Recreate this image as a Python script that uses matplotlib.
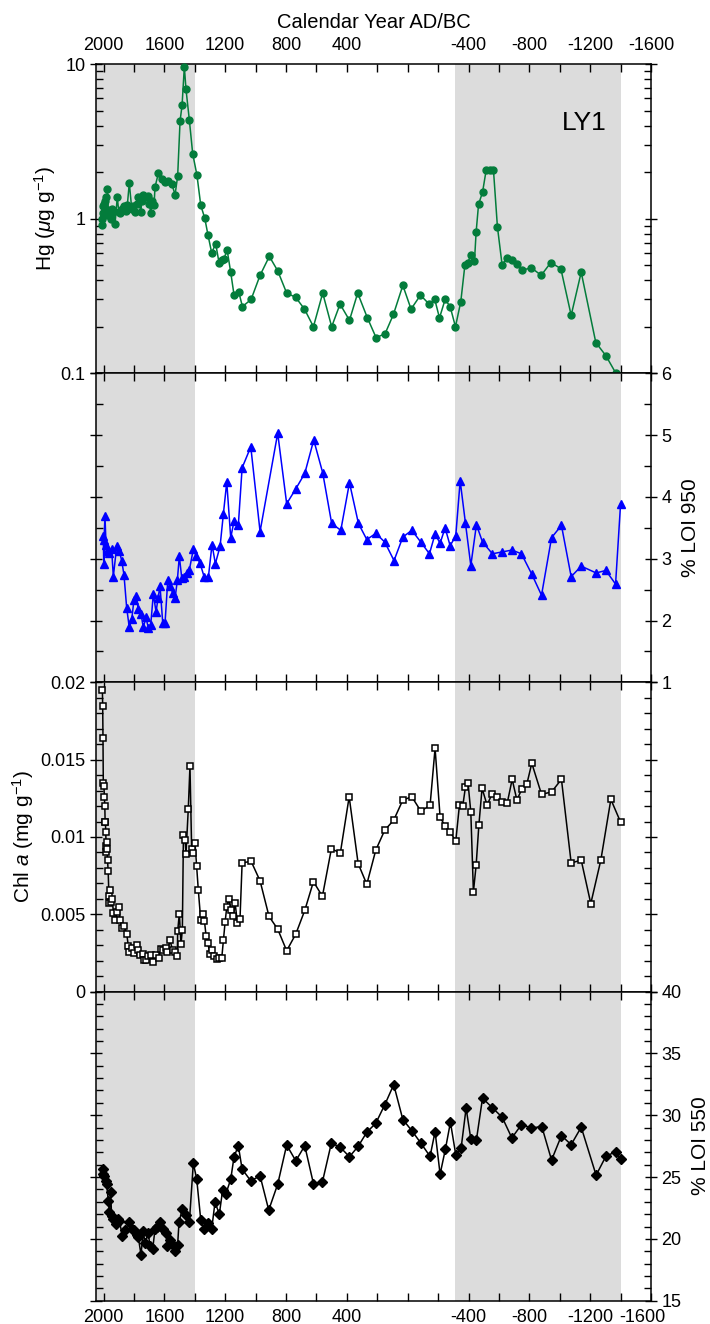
import numpy as np
import matplotlib
matplotlib.use('Agg')
import matplotlib.pyplot as plt
import matplotlib.transforms as mtransforms
from matplotlib.ticker import FixedLocator, MultipleLocator, LogLocator, NullFormatter, FixedFormatter

plt.rcParams['font.family'] = ['Liberation Sans', 'DejaVu Sans']
plt.rcParams['mathtext.fontset'] = 'custom'
plt.rcParams['mathtext.rm'] = 'Liberation Sans'
plt.rcParams['mathtext.it'] = 'Liberation Sans:italic'
plt.rcParams['axes.unicode_minus'] = False

# Hg (ug/g)
hg_year = [2013, 2010, 2006, 2002, 1997, 1990, 1984, 1980, 1975, 1969, 1958, 1950, 1945, 1936, 1925,
           1910, 1900, 1892, 1880, 1866, 1855, 1844, 1831, 1815, 1805, 1793, 1780, 1771, 1756, 1748,
           1739, 1721, 1710, 1699, 1690, 1680, 1668, 1662, 1640, 1618, 1596, 1574, 1552, 1530, 1513,
           1497, 1484, 1469, 1458, 1436, 1414, 1386, 1361, 1335, 1313, 1289, 1263, 1241, 1221, 1208,
           1188, 1164, 1142, 1111, 1087, 1030, 971, 910, 855, 796, 737, 679, 620, 559, 500, 445, 383,
           329, 265, 208, 149, 94, 32, -22, -84, -141, -178, -209, -246, -279, -314, -349, -376, -395,
           -415, -439, -450, -466, -492, -516, -542, -564, -590, -621, -652, -685, -718, -751, -814,
           -878, -941, -1007, -1075, -1141, -1237, -1303, -1369]
hg_val = [0.91, 1.0, 1.08, 1.2, 1.25, 1.3, 1.38, 1.05, 1.55, 1.13, 1.05, 1.0, 1.15, 1.1, 0.92,
          1.38, 1.1, 1.08, 1.15, 1.2, 1.12, 1.22, 1.7, 1.16, 1.2, 1.1, 1.25, 1.38, 1.1, 1.3,
          1.43, 1.38, 1.4, 1.25, 1.08, 1.3, 1.22, 1.6, 1.96, 1.8, 1.73, 1.75, 1.68, 1.43, 1.88,
          4.3, 5.4, 9.6, 6.85, 4.34, 2.63, 1.91, 1.22, 1.01, 0.78, 0.6, 0.69, 0.52, 0.54, 0.55,
          0.63, 0.45, 0.32, 0.335, 0.27, 0.3, 0.43, 0.57, 0.46, 0.33, 0.31, 0.26, 0.2, 0.33, 0.2, 0.28, 0.22,
          0.33, 0.228, 0.17, 0.18, 0.24, 0.37, 0.26, 0.32, 0.28, 0.30, 0.228, 0.30, 0.27, 0.2, 0.29, 0.5, 0.52,
          0.58, 0.53, 0.82, 1.24, 1.48, 2.06, 2.06, 2.06, 0.885, 0.5, 0.56, 0.54, 0.51, 0.465, 0.48,
          0.43, 0.52, 0.475, 0.237, 0.45, 0.158, 0.13, 0.1]

# % LOI 950
loi950_year = [2002, 1999, 1997, 1991, 1984, 1975, 1962, 1947, 1936, 1914, 1896, 1881, 1866, 1848, 1831,
               1815, 1800, 1787, 1772, 1754, 1739, 1721, 1706, 1690, 1673, 1655, 1642, 1629, 1611, 1596,
               1578, 1563, 1546, 1530, 1515, 1502, 1486, 1471, 1453, 1436, 1410, 1392, 1366, 1339, 1311,
               1287, 1265, 1234, 1212, 1190, 1164, 1142, 1114, 1089, 1032, 971, 855, 796, 736, 677, 618,
               559, 500, 440, 383, 324, 269, 210, 151, 90, 32, -27, -86, -143, -180, -213, -246, -279,
               -316, -345, -380, -415, -452, -492, -557, -621, -685, -748, -816, -880, -946, -1011,
               -1075, -1141, -1239, -1303, -1367, -1400]
loi950_val = [3.36, 2.92, 3.31, 3.69, 3.23, 3.12, 3.09, 3.15, 2.71, 3.2, 3.12, 2.97, 2.74, 2.2, 1.89,
              2.02, 2.34, 2.4, 2.19, 2.11, 1.89, 2.05, 1.88, 1.93, 2.43, 2.14, 2.36, 2.56, 1.96, 1.96,
              2.65, 2.56, 2.45, 2.36, 2.65, 3.04, 2.69, 2.71, 2.77, 2.82, 3.15, 3.05, 2.93, 2.71, 2.7,
              3.23, 2.92, 3.2, 3.73, 4.24, 3.34, 3.61, 3.54, 4.47, 4.81, 3.44, 5.03, 3.89, 4.13, 4.38, 4.92,
              4.39, 3.57, 3.46, 4.23, 3.57, 3.31, 3.41, 3.27, 2.97, 3.35, 3.46, 3.27, 3.08, 3.4, 3.25, 3.5, 3.21,
              3.37, 4.26, 3.57, 2.89, 3.55, 3.27, 3.08, 3.11, 3.14, 3.08, 2.75, 2.41, 3.34, 3.54,
              2.71, 2.88, 2.77, 2.81, 2.59, 3.89]

# Chl a (mg/g)
chl_year = [2008, 2006, 2004, 2002, 1998, 1995, 1992, 1990, 1988, 1986, 1984, 1982, 1980, 1977, 1974,
            1970, 1965, 1962, 1955, 1950, 1942, 1936, 1925, 1910, 1899, 1892, 1881, 1864, 1848, 1837,
            1831, 1815, 1800, 1782, 1772, 1761, 1743, 1734, 1721, 1706, 1690, 1673, 1657, 1636, 1625,
            1607, 1592, 1581, 1563, 1546, 1530, 1515, 1513, 1502, 1491, 1482, 1475, 1464, 1458, 1443,
            1432, 1421, 1410, 1399, 1388, 1377, 1361, 1348, 1337, 1326, 1315, 1300, 1287, 1274, 1256,
            1239, 1223, 1212, 1201, 1190, 1177, 1162, 1146, 1135, 1120, 1103, 1089, 1030, 971, 912, 855,
            796, 736, 677, 620, 561, 502, 443, 385, 326, 269, 210, 151, 92, 32, -27, -86, -147, -180,
            -213, -246, -279, -316, -340, -362, -380, -397, -415, -432, -450, -468, -489, -522, -555,
            -588, -621, -654, -687, -718, -750, -783, -816, -880, -946, -1011, -1075, -1141, -1204,
            -1270, -1336, -1400]
chl_val = [0.0195, 0.0185, 0.0164, 0.0135, 0.0133, 0.0126, 0.0120, 0.0110, 0.0110, 0.0103, 0.0094, 0.0090,
           0.0097, 0.0092, 0.0085, 0.0078, 0.0062, 0.0057, 0.0066, 0.0058, 0.0060, 0.00508, 0.0046, 0.00512,
           0.00545, 0.00465, 0.00411, 0.00426, 0.00374, 0.00292, 0.00259, 0.00281, 0.00249, 0.00298, 0.0027,
           0.00238, 0.00244, 0.00201, 0.00205, 0.00231, 0.00238, 0.00188, 0.00238, 0.00216, 0.00275, 0.0027,
           0.00281, 0.00259, 0.00331, 0.00266, 0.00259, 0.00231, 0.00389, 0.00504, 0.00307, 0.004, 0.01012,
           0.00979, 0.00893, 0.01183, 0.01459, 0.00923, 0.00897, 0.00962, 0.00811, 0.00655, 0.0046, 0.00504,
           0.00458, 0.00361, 0.00314, 0.00244, 0.0027, 0.00231, 0.0021, 0.00214, 0.00216, 0.00331, 0.00448,
           0.00547, 0.00599, 0.0053, 0.00491, 0.00573, 0.00443, 0.00469, 0.00832, 0.00843, 0.00716, 0.00486,
           0.00404, 0.00264, 0.00372, 0.00525, 0.00711, 0.00616, 0.00923, 0.00897, 0.0126, 0.00828, 0.00694,
           0.00915, 0.01044, 0.01109, 0.01239, 0.0126, 0.01168, 0.01204, 0.01574, 0.01129, 0.0107, 0.01034,
           0.00973, 0.01204, 0.012, 0.01325, 0.01347, 0.01161, 0.00644, 0.00817, 0.01077, 0.01315, 0.01206,
           0.0128, 0.01258, 0.01228, 0.01217, 0.01373, 0.01239, 0.01308, 0.0134, 0.01477, 0.01276, 0.01291,
           0.01373, 0.00832, 0.0085, 0.00569, 0.0085, 0.01243, 0.01096]

# % LOI 550
loi550_year = [2006, 2002, 1997, 1984, 1980, 1969, 1962, 1954, 1947, 1936, 1918, 1907, 1896, 1877, 1859,
               1831, 1815, 1800, 1782, 1772, 1754, 1739, 1728, 1706, 1695, 1677, 1662, 1647, 1629, 1611,
               1589, 1581, 1563, 1546, 1530, 1513, 1504, 1482, 1458, 1436, 1410, 1388, 1361, 1340, 1311,
               1289, 1267, 1239, 1217, 1197, 1164, 1142, 1114, 1089, 1032, 971, 914, 855, 796, 736, 677,
               620, 561, 502, 443, 383, 326, 269, 210, 151, 92, 32, -27, -86, -147, -180, -213, -248,
               -281, -316, -351, -384, -415, -452, -492, -557, -621, -685, -748, -814, -882, -946,
               -1011, -1075, -1141, -1239, -1303, -1367, -1400]
loi550_val = [25.23, 25.64, 25.1, 24.69, 24.42, 23.06, 22.17, 23.8, 21.84, 21.57, 21.17, 21.63, 21.44, 20.27, 20.7,
              21.38, 20.81, 20.7, 20.35, 20.16, 18.72, 20.62, 19.67, 20.49, 19.4, 19.19, 20.76, 20.98, 21.38, 20.81,
              20.49, 19.4, 19.89, 19.54, 19.0, 19.54, 21.35, 22.44, 21.9, 21.35, 26.1, 24.88, 21.52, 20.76, 21.25,
              20.81, 22.98, 21.98, 23.96, 23.6, 24.82, 26.64, 27.53, 25.64, 24.69, 25.1, 22.33, 24.42, 27.59, 26.31, 27.53,
              24.47, 24.6, 27.75, 27.4, 26.64, 27.48, 28.62, 29.35, 30.84, 32.47, 29.65, 28.75, 27.75, 26.67, 28.67, 25.23, 27.26,
              29.43, 26.8, 27.32, 30.57, 28.08, 28.02, 31.38, 30.6, 29.84, 28.16, 29.24, 28.97, 29.08, 26.37,
              28.35, 27.62, 29.03, 25.15, 26.67, 27.05, 26.45]

x_ticks = [2000, 1600, 1200, 800, 400, 0, -400, -800, -1200, -1600]
x_ticklabels = ['2000', '1600', '1200', '800', '400', '', '-400', '-800', '-1200', '-1600']
shade = [(2050, 1400), (-310, -1400)]

fig = plt.figure(figsize=(7.1, 13.24), dpi=100)
left, width, h, y0 = 0.1352, 0.7817, 0.2335, 0.0176
axes = [fig.add_axes([left, y0 + (3 - i) * h, width, h]) for i in range(4)]
ax1, ax2, ax3, ax4 = axes

for ax in axes:
    for a, b in shade:
        ax.axvspan(a, b, color='#dcdcdc', lw=0, zorder=0)
    ax.set_xlim(2050, -1600)
    ax.xaxis.set_major_locator(FixedLocator(x_ticks))
    ax.xaxis.set_major_formatter(FixedFormatter(x_ticklabels))
    ax.xaxis.set_minor_locator(MultipleLocator(200))
    ax.tick_params(axis='x', which='both', direction='in', top=True, bottom=True,
                   length=6, width=1, labelbottom=False, labeltop=False, labelsize=13, pad=6)
    ax.tick_params(axis='y', which='major', direction='inout', left=True, right=True,
                   length=8, width=1, labelsize=13)
    ax.tick_params(axis='y', which='minor', direction='in', left=True, right=True,
                   length=5, width=1)
    for s in ax.spines.values():
        s.set_linewidth(1.1)

# panel 1: Hg
ax1.plot(hg_year, hg_val, '-o', color='#037c3b', ms=5, lw=1.1, clip_on=False, zorder=3)
ax1.set_yscale('log')
ax1.set_ylim(0.1, 10)
ax1.yaxis.set_major_locator(FixedLocator([0.1, 1, 10]))
ax1.yaxis.set_major_formatter(FixedFormatter(['0.1', '1', '10']))
ax1.yaxis.set_minor_locator(LogLocator(subs=np.arange(2, 10)))
ax1.yaxis.set_minor_formatter(NullFormatter())
ax1.tick_params(axis='x', labeltop=True, pad=7)
ax1.xaxis.set_label_position('top')
ax1.set_xlabel('Calendar Year AD/BC', fontsize=14.5, labelpad=7)
ax1.set_ylabel(r'Hg ($\mu$g g$^{-1}$)', fontsize=15, labelpad=2)
ax1.text(0.88, 0.81, 'LY1', transform=ax1.transAxes, fontsize=19, ha='center', va='center')

# panel 2: LOI 950
ax2.plot(loi950_year, loi950_val, '-^', color='#0000ff', ms=6, lw=1.1, zorder=3)
ax2.set_ylim(1, 6)
ax2.yaxis.set_major_locator(MultipleLocator(1))
ax2.yaxis.set_minor_locator(MultipleLocator(0.5))
ax2.tick_params(axis='y', labelleft=False, labelright=True)
ax2.yaxis.set_label_position('right')
ax2.set_ylabel('% LOI 950', fontsize=15, labelpad=7)

# panel 3: Chl a
ax3.plot(chl_year, chl_val, '-s', color='black', mfc='white', mec='black', mew=1.1,
         ms=5, lw=1.1, zorder=3)
ax3.set_ylim(0, 0.02)
ax3.yaxis.set_major_locator(FixedLocator([0, 0.005, 0.01, 0.015, 0.02]))
ax3.yaxis.set_major_formatter(FixedFormatter(['0', '0.005', '0.01', '0.015', '0.02']))
ax3.yaxis.set_minor_locator(MultipleLocator(0.001))
ax3.set_ylabel(r'Chl $a$ (mg g$^{-1}$)', fontsize=15, labelpad=3)

# panel 4: LOI 550
ax4.plot(loi550_year, loi550_val, '-D', color='black', ms=5.5, lw=1.1, zorder=3)
ax4.set_ylim(15, 40)
ax4.yaxis.set_major_locator(MultipleLocator(5))
ax4.yaxis.set_minor_locator(MultipleLocator(1))
ax4.tick_params(axis='y', labelleft=False, labelright=True)
ax4.tick_params(axis='x', labelbottom=True)
ax4.yaxis.set_label_position('right')
ax4.set_ylabel('% LOI 550', fontsize=15, labelpad=7)

# keep the corner labels "-1600" and "15" apart
fig.canvas.draw()
lab = ax4.get_xticklabels()[-1]
lab.set_transform(lab.get_transform() + mtransforms.ScaledTranslation(-6 / 72, 0, fig.dpi_scale_trans))
lab = ax4.get_yticklabels()[0]
lab.set_transform(lab.get_transform() + mtransforms.ScaledTranslation(0, 4 / 72, fig.dpi_scale_trans))

plt.savefig('out.png', dpi=100)
